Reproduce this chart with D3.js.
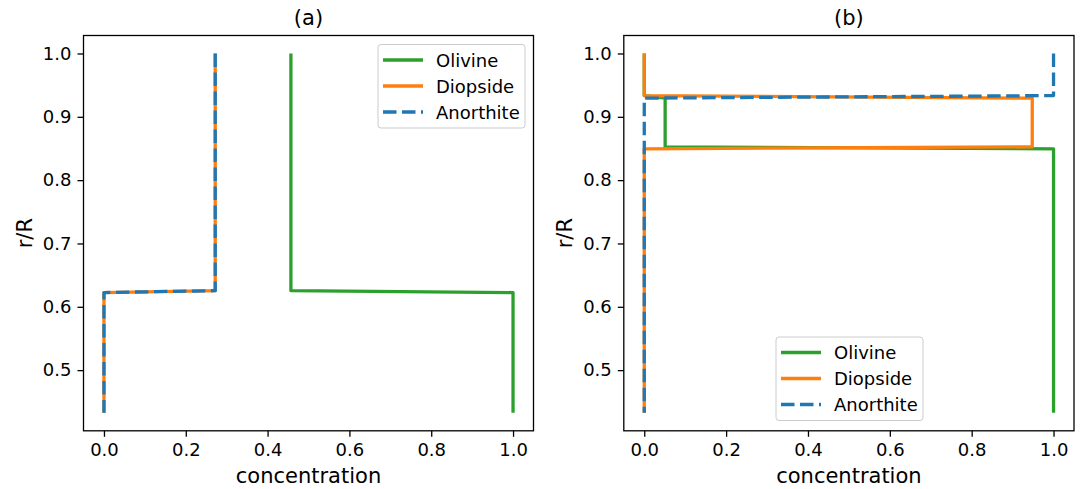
<!DOCTYPE html>
<html><head><meta charset="utf-8">
<script src="https://cdn.jsdelivr.net/npm/d3@7"></script>
<style>
html,body{margin:0;padding:0;background:#fff;}
svg{display:block;font-family:"DejaVu Sans",sans-serif;}
</style></head>
<body>
<svg id="chart" width="1083" height="489"></svg>
<script>
// ---- data ----
const xTicks = [0.0, 0.2, 0.4, 0.6, 0.8, 1.0];
const yTicks = [0.5, 0.6, 0.7, 0.8, 0.9, 1.0];
const seriesNames = ["Olivine", "Diopside", "Anorthite"];

// panel (a)
const olivineA_c = [0.457, 0.457, 1.0, 1.0];
const olivineA_r = [1.0, 0.6255, 0.6225, 0.4326];
const diopsideA_c = [0.272, 0.272, 0.0, 0.0];
const diopsideA_r = [1.0, 0.6255, 0.6225, 0.4326];
const anorthiteA_c = [0.272, 0.272, 0.0, 0.0];
const anorthiteA_r = [1.0, 0.6255, 0.6225, 0.4326];

// panel (b)
const olivineB_c = [0.0, 0.0, 0.051, 0.051, 1.0, 1.0];
const olivineB_r = [1.0, 0.9335, 0.9295, 0.8525, 0.8495, 0.4326];
const diopsideB_c = [0.0, 0.0, 0.948, 0.948, 0.0, 0.0];
const diopsideB_r = [1.0, 0.9335, 0.9295, 0.8525, 0.8495, 0.4326];
const anorthiteB_c = [1.0, 1.0, 0.0, 0.0];
const anorthiteB_r = [1.0, 0.9335, 0.9295, 0.4326];

const colors = {Olivine: "#2ca02c", Diopside: "#ff7f0e", Anorthite: "#1f77b4"};
const dashes = {Olivine: null, Diopside: null, Anorthite: "13.5,5.5"};

const svg = d3.select("#chart");
const LW = 3.3;
const TICK_FS = 18, LABEL_FS = 21, LEGEND_FS = 18;

function zip(c, r) { return c.map((v, i) => [v, r[i]]); }

const panels = [
  {title: "(a)", left: 83.5, right: 533.5,
   series: [["Olivine", zip(olivineA_c, olivineA_r)], ["Diopside", zip(diopsideA_c, diopsideA_r)], ["Anorthite", zip(anorthiteA_c, anorthiteA_r)]],
   legend: {x: 378, y: 44.5}},
  {title: "(b)", left: 623.8, right: 1074,
   series: [["Olivine", zip(olivineB_c, olivineB_r)], ["Diopside", zip(diopsideB_c, diopsideB_r)], ["Anorthite", zip(anorthiteB_c, anorthiteB_r)]],
   legend: {x: 776, y: 337}}
];

const axTop = 35.5, axBottom = 430.8;

panels.forEach(p => {
  const x = d3.scaleLinear().domain([-0.05, 1.05]).range([p.left, p.right]);
  const y = d3.scaleLinear().domain([0.4042, 1.0284]).range([axBottom, axTop]);
  const g = svg.append("g");

  const clipId = "clip" + p.title.replace(/\W/g, "");
  svg.append("clipPath").attr("id", clipId).append("rect")
    .attr("x", p.left).attr("y", axTop).attr("width", p.right - p.left).attr("height", axBottom - axTop);

  const line = d3.line().x(d => x(d[0])).y(d => y(d[1]));
  const plot = g.append("g").attr("clip-path", `url(#${clipId})`);
  p.series.forEach(([name, pts]) => {
    plot.append("path").attr("d", line(pts))
      .attr("fill", "none").attr("stroke", colors[name]).attr("stroke-width", LW)
      .attr("stroke-linejoin", "round").attr("stroke-linecap", "butt")
      .attr("stroke-dasharray", dashes[name]);
  });

  // axes
  const xAxis = d3.axisBottom(x).tickValues(xTicks).tickFormat(d3.format(".1f")).tickSize(6).tickPadding(6);
  const yAxis = d3.axisLeft(y).tickValues(yTicks).tickFormat(d3.format(".1f")).tickSize(6).tickPadding(6);
  const gx = g.append("g").attr("transform", `translate(0,${axBottom})`).call(xAxis);
  const gy = g.append("g").attr("transform", `translate(${p.left},0)`).call(yAxis);
  [gx, gy].forEach(a => {
    a.select(".domain").remove();
    a.selectAll("line").attr("stroke", "#000").attr("stroke-width", 1.3);
    a.selectAll("text").attr("font-size", TICK_FS).attr("fill", "#000").attr("font-family", "DejaVu Sans");
  });
  // frame
  g.append("rect").attr("x", p.left).attr("y", axTop).attr("width", p.right - p.left).attr("height", axBottom - axTop)
    .attr("fill", "none").attr("stroke", "#000").attr("stroke-width", 1.3);

  // title
  g.append("text").attr("x", (p.left + p.right) / 2).attr("y", 25).attr("text-anchor", "middle")
    .attr("font-size", LABEL_FS).text(p.title);
  // labels
  g.append("text").attr("x", (p.left + p.right) / 2).attr("y", 483).attr("text-anchor", "middle")
    .attr("font-size", LABEL_FS).text("concentration");
  g.append("text").attr("transform", `translate(${p.left - 51.5},${(axTop + axBottom) / 2}) rotate(-90)`)
    .attr("text-anchor", "middle").attr("font-size", LABEL_FS).text("r/R");

  // legend
  const L = p.legend;
  const lg = g.append("g").attr("transform", `translate(${L.x},${L.y})`);
  lg.append("rect").attr("width", 147).attr("height", 83.5).attr("rx", 3)
    .attr("fill", "#fff").attr("fill-opacity", 0.8).attr("stroke", "#cccccc").attr("stroke-width", 1);
  seriesNames.forEach((name, i) => {
    const yy = 15.5 + i * 26;
    lg.append("line").attr("x1", 5).attr("x2", 45).attr("y1", yy).attr("y2", yy)
      .attr("stroke", colors[name]).attr("stroke-width", LW).attr("stroke-dasharray", dashes[name]);
    lg.append("text").attr("x", 58).attr("y", yy + 6.5).attr("font-size", LEGEND_FS).text(name);
  });
});
</script>
</body></html>
